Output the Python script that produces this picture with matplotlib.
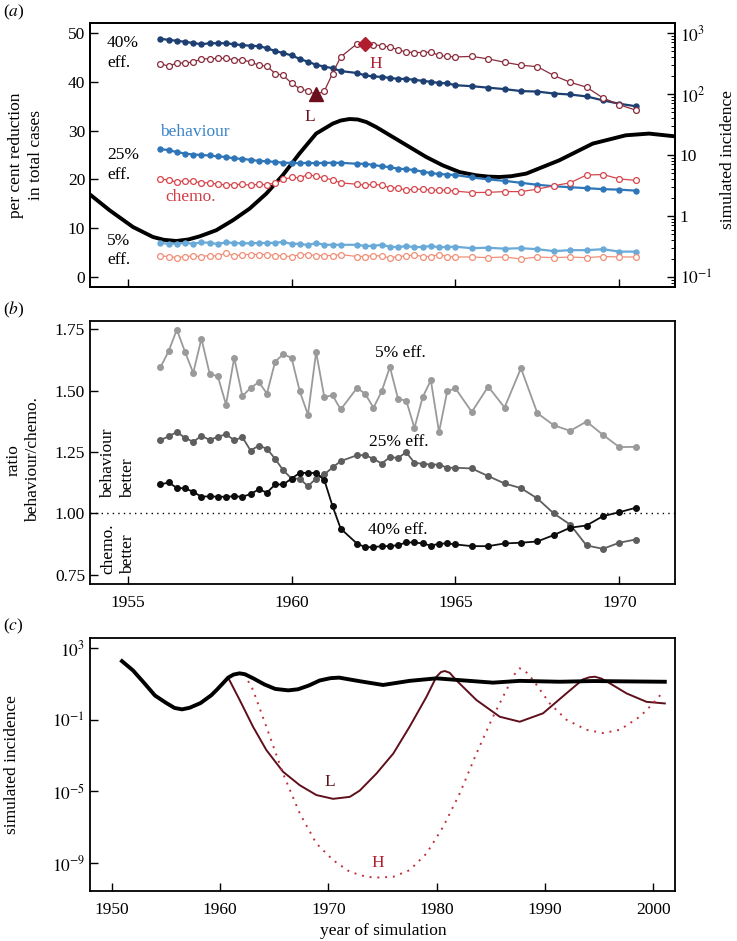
import numpy as np
import matplotlib
matplotlib.use("Agg")
import matplotlib.pyplot as plt
from matplotlib.ticker import FixedLocator, FixedFormatter, LogLocator, NullLocator, NullFormatter

plt.rcParams['font.family'] = ['Liberation Serif', 'DejaVu Serif']
plt.rcParams['mathtext.fontset'] = 'stix'

# ---------------- data ----------------
years = [1956.0, 1956.25, 1956.5, 1956.75, 1957.0, 1957.25, 1957.5, 1957.75,
         1958.0, 1958.25, 1958.5, 1958.75, 1959.0, 1959.25, 1959.5, 1959.75,
         1960.0, 1960.25, 1960.5, 1960.75, 1961.0, 1961.25, 1961.5,
         1962.0, 1962.25, 1962.5, 1962.75, 1963.0, 1963.25, 1963.5, 1963.75,
         1964.0, 1964.25, 1964.5, 1964.75, 1965.0,
         1965.5, 1966.0, 1966.5, 1967.0, 1967.5, 1968.0, 1968.5, 1969.0,
         1969.5, 1970.0, 1970.5]

beh40 = [48.8, 48.6, 48.4, 48.2, 47.95, 47.7, 47.9, 47.9, 47.9, 47.7, 47.5, 47.4,
         47.3, 46.9, 46.3, 45.9, 45.4, 44.7, 44.1, 43.5, 43.1, 42.8, 42.2,
         41.8, 41.3, 41.1, 41.0, 40.8, 40.6, 40.6, 40.4, 40.2, 40.0, 39.75, 39.7, 39.3,
         39.1, 38.8, 38.5, 38.1, 38.0, 37.6, 37.4, 37.0, 36.2, 35.5, 35.0]
chem40 = [43.7, 43.2, 43.85, 43.85, 44.06, 44.7, 44.7, 44.8, 44.8, 44.5, 44.5, 44.06,
          43.4, 43.2, 41.7, 41.3, 39.7, 38.6, 38.1, 37.4, 38.1, 41.7, 45.1,
          47.8, 47.8, 47.6, 47.4, 47.1, 46.6, 46.1, 46.0, 46.0, 46.1, 45.4, 45.2, 45.1,
          45.2, 44.7, 44.0, 43.4, 43.1, 41.3, 39.9, 38.9, 36.7, 35.3, 34.2]
beh25 = [26.2, 26.0, 25.6, 25.3, 25.1, 25.0, 24.9, 24.7, 24.6, 24.3, 24.2, 24.0,
         23.8, 23.7, 23.6, 23.4, 23.4, 23.3, 23.4, 23.3, 23.4, 23.4, 23.4,
         23.2, 23.2, 22.95, 22.7, 22.5, 22.2, 22.1, 21.9, 21.6, 21.3, 21.1, 21.0, 20.9,
         20.4, 20.0, 19.7, 19.3, 18.9, 18.6, 18.4, 18.2, 18.0, 17.9, 17.7]
chem25 = [20.15, 19.8, 19.5, 19.7, 19.6, 19.3, 19.3, 19.0, 18.9, 18.9, 19.0, 18.8,
          19.0, 18.9, 19.3, 20.0, 20.4, 20.3, 21.0, 20.6, 20.3, 19.9, 19.3,
          19.0, 18.8, 19.0, 18.8, 18.3, 18.2, 17.8, 18.0, 18.0, 17.8, 17.8, 17.8, 17.6,
          17.3, 17.35, 17.5, 17.5, 18.0, 18.7, 19.3, 20.9, 21.0, 20.1, 19.8]
beh5 = [6.97, 6.83, 6.83, 6.97, 6.83, 7.1, 7.0, 6.76, 7.1, 6.97, 6.9, 6.9,
        6.97, 6.97, 7.0, 7.2, 6.76, 6.83, 6.5, 7.0, 6.6, 6.6, 6.6,
        6.6, 6.35, 6.4, 6.6, 6.2, 6.1, 6.35, 6.1, 6.15, 6.35, 6.1, 6.15, 6.2,
        5.9, 6.0, 5.8, 5.9, 5.7, 5.3, 5.5, 5.5, 5.7, 5.2, 5.2]
chem5 = [4.3, 4.2, 3.96, 4.2, 4.3, 4.2, 4.4, 4.3, 4.9, 4.3, 4.6, 4.6,
         4.6, 4.6, 4.4, 4.3, 4.2, 4.6, 4.6, 4.4, 4.4, 4.4, 4.6,
         4.2, 4.2, 4.4, 4.3, 3.9, 4.2, 4.3, 4.5, 4.2, 4.2, 4.6, 4.2, 4.1,
         4.1, 3.96, 4.1, 3.7, 4.1, 3.96, 4.1, 3.96, 4.2, 4.1, 4.1]

# highlighted L and H points on the 40% chemo series
L_year, L_val = 1960.75, 37.4
H_year, H_val = 1962.25, 47.8

ratio5 = [1.595, 1.660, 1.748, 1.657, 1.572, 1.711, 1.569, 1.558, 1.443, 1.633, 1.477, 1.511,
          1.534, 1.488, 1.618, 1.648, 1.633, 1.497, 1.402, 1.656, 1.473, 1.481, 1.423,
          1.511, 1.486, 1.430, 1.497, 1.596, 1.466, 1.459, 1.348, 1.473, 1.542, 1.331, 1.497, 1.509,
          1.413, 1.516, 1.431, 1.591, 1.408, 1.359, 1.336, 1.374, 1.320, 1.270, 1.271]
ratio25 = [1.298, 1.314, 1.331, 1.308, 1.291, 1.316, 1.299, 1.312, 1.322, 1.298, 1.310, 1.256,
           1.276, 1.263, 1.222, 1.175, 1.142, 1.141, 1.111, 1.142, 1.159, 1.187, 1.213,
           1.237, 1.237, 1.222, 1.203, 1.229, 1.226, 1.249, 1.206, 1.202, 1.199, 1.199, 1.186, 1.186,
           1.183, 1.152, 1.122, 1.103, 1.061, 1.000, 0.955, 0.870, 0.856, 0.881, 0.894]
ratio40 = [1.118, 1.126, 1.104, 1.102, 1.088, 1.068, 1.070, 1.068, 1.068, 1.070, 1.068, 1.079,
           1.098, 1.085, 1.118, 1.118, 1.142, 1.165, 1.165, 1.165, 1.136, 1.030, 0.938,
           0.877, 0.863, 0.863, 0.867, 0.867, 0.871, 0.882, 0.882, 0.878, 0.869, 0.877, 0.878, 0.874,
           0.867, 0.867, 0.878, 0.881, 0.886, 0.912, 0.942, 0.951, 0.989, 1.005, 1.023]

# simulated incidence (log10) shown in panel (a), right axis
inc_a_years = [1953.84, 1954.45, 1955.16, 1955.77, 1956.1, 1956.48, 1956.85, 1957.2, 1957.7,
               1958.21, 1958.72, 1959.23, 1959.73, 1960.24, 1960.75, 1961.26, 1961.5, 1961.77,
               1962.02, 1962.28, 1962.58, 1963.09, 1963.6, 1964.11, 1964.61, 1965.12, 1965.63,
               1966.0, 1966.34, 1966.7, 1967.16, 1968.17, 1969.19, 1970.2, 1970.91, 1971.68]
inc_a_log10 = [0.356, 0.093, -0.18, -0.344, -0.39, -0.41, -0.385, -0.333, -0.234,
               -0.07, 0.121, 0.367, 0.667, 1.023, 1.351, 1.515, 1.565, 1.59,
               1.582, 1.541, 1.459, 1.295, 1.131, 0.967, 0.831, 0.721, 0.667,
               0.646, 0.639, 0.652, 0.695, 0.913, 1.187, 1.323, 1.351, 1.307]

# panel (c): baseline, L and H scenarios (log10 incidence)
base_years = [1950.95, 1951.97, 1953.0, 1954.0, 1955.0, 1955.8, 1956.5, 1957.2, 1958.2, 1959.2,
              1959.7, 1960.25, 1960.75, 1961.25, 1961.8, 1962.3, 1963.1, 1964.1, 1965.1, 1966.3,
              1967.2, 1968.2, 1969.2, 1970.2, 1971.0, 1972.9, 1975.05, 1977.5, 1979.98, 1982.13,
              1985.2, 1987.67, 1991.37, 1994.44, 1997.53, 2001.06]
base_log10 = [2.27, 1.75, 1.05, 0.35, -0.05, -0.34, -0.42, -0.33, -0.07, 0.37,
              0.67, 1.02, 1.35, 1.52, 1.59, 1.54, 1.30, 0.97, 0.72, 0.64,
              0.70, 0.91, 1.19, 1.32, 1.35, 1.15, 0.94, 1.17, 1.31, 1.21,
              1.07, 1.17, 1.12, 1.16, 1.14, 1.12]
L_years = [1960.75, 1961.82, 1963.05, 1964.28, 1965.82, 1967.36, 1968.9, 1970.44, 1971.98,
           1972.9, 1974.44, 1976.0, 1977.5, 1979.06, 1979.98, 1980.4, 1980.75, 1981.2, 1981.8,
           1983.67, 1985.82, 1987.67, 1989.82, 1991.97, 1993.5, 1994.1, 1994.6, 1995.2,
           1995.99, 1997.53, 1999.37, 2001.06]
L_log10 = [1.35, 0.1, -1.39, -2.69, -3.9, -4.65, -5.2, -5.41, -5.3,
           -4.95, -4.0, -2.88, -1.39, 0.28, 1.40, 1.66, 1.72, 1.62, 1.21,
           0.1, -0.83, -1.11, -0.64, 0.47, 1.25, 1.37, 1.40, 1.30,
           1.03, 0.47, 0.0, -0.09]
H_years = [1962.25, 1963.05, 1964.28, 1965.82, 1967.36, 1968.9, 1970.44, 1971.98, 1973.52,
           1974.44, 1975.98, 1977.5, 1979.06, 1980.6, 1982.13, 1983.67, 1985.2, 1986.44,
           1987.2, 1987.67, 1988.2, 1988.9, 1990.44, 1991.98, 1993.83, 1995.37, 1996.91,
           1998.75, 1999.98, 2000.9]
H_log10 = [1.54, 0.66, -1.39, -4.0, -6.22, -7.9, -8.83, -9.48, -9.76,
           -9.8, -9.76, -9.39, -8.46, -6.97, -5.11, -2.88, -0.83, 0.66,
           1.55, 1.87, 1.70, 1.22, -0.09, -1.0, -1.56, -1.74, -1.56,
           -0.83, -0.09, 0.56]

# ---------------- styling ----------------
c_beh40, c_beh25, c_beh5 = '#1d3f72', '#2f76b8', '#6aaad8'
c_ch40, c_ch25, c_ch5 = '#8a2b3b', '#d5474c', '#f08f78'
FS = 12.5

W, Hh = 737, 941
fig = plt.figure(figsize=(W / 100, Hh / 100), dpi=100)

def rect(l, t, r, b):
    return [l / W, 1 - b / Hh, (r - l) / W, (b - t) / Hh]

def ftext(x, y, s, **kw):
    fig.text(x / W, 1 - y / Hh, s, **kw)

axA = fig.add_axes(rect(90, 23, 675, 287))
axB = fig.add_axes(rect(90, 321, 675, 584))
axC = fig.add_axes(rect(90, 638, 675, 891))

for ax in (axA, axB, axC):
    for s in ax.spines.values():
        s.set_linewidth(1.3)
    ax.tick_params(direction='in', length=6, width=1.0, labelsize=FS)

# ---------------- panel (a) ----------------
axA2 = axA.twinx()
axA2.set_zorder(0)
axA.set_zorder(1)
axA.patch.set_visible(False)
axA2.plot(inc_a_years, 10 ** np.array(inc_a_log10), color='black', lw=2.8, zorder=1,
          solid_joinstyle='round')
axA2.set_yscale('log')
axA2.set_ylim(10 ** -1.164, 10 ** 3.164)
axA2.yaxis.set_major_locator(FixedLocator([0.1, 1, 10, 100, 1000]))
axA2.yaxis.set_major_formatter(FixedFormatter([r'$10^{-1}$', '1', '10', r'$10^{2}$', r'$10^{3}$']))
axA2.yaxis.set_minor_locator(LogLocator(base=10, subs=np.arange(2, 10)))
axA2.yaxis.set_minor_formatter(NullFormatter())
axA2.tick_params(axis='y', which='major', direction='in', length=6, width=1.0, labelsize=FS)
axA2.tick_params(axis='y', which='minor', direction='in', length=3, width=0.7)
for s in axA2.spines.values():
    s.set_linewidth(1.3)

ms_f, ms_o = 3.6, 4.2
for vals, col in ((beh40, c_beh40), (beh25, c_beh25), (beh5, c_beh5)):
    axA.plot(years, vals, '-o', color=col, lw=1.6, ms=ms_f, mec=col, mfc=col, zorder=3)
for vals, col in ((chem40, c_ch40), (chem25, c_ch25), (chem5, c_ch5)):
    axA.plot(years, vals, '-o', color=col, lw=0.9, ms=ms_o, mec=col, mfc='white', mew=0.9, zorder=3)
axA.plot([L_year], [L_val], '^', color='#6b0f1c', ms=10, zorder=5)
axA.plot([H_year], [H_val], 'D', color='#b01d2e', ms=7, zorder=5)

axA.set_xlim(1953.85, 1971.7)
axA.set_ylim(-2.05, 52.05)
axA.set_yticks([0, 10, 20, 30, 40, 50])
axA.set_xticks([1955, 1960, 1965, 1970])
axA.set_xticklabels([])
axA.tick_params(axis='y', right=False)

ftext(107, 43, '40%', fontsize=FS, va='center', ha='left')
ftext(107, 63, 'eff.', fontsize=FS, va='center', ha='left')
ftext(107, 155, '25%', fontsize=FS, va='center', ha='left')
ftext(107, 175, 'eff.', fontsize=FS, va='center', ha='left')
ftext(107, 241, '5%', fontsize=FS, va='center', ha='left')
ftext(107, 260, 'eff.', fontsize=FS, va='center', ha='left')
ftext(160, 132, 'behaviour', fontsize=FS, color='#3a84c6', va='center', ha='left')
ftext(165, 197, 'chemo.', fontsize=FS, color='#cf3f47', va='center', ha='left')
ftext(310, 117, 'L', fontsize=FS, color='#6b0f1c', va='center', ha='center')
ftext(376, 64, 'H', fontsize=FS, color='#b01d2e', va='center', ha='center')

ftext(26, 155, 'per cent reduction\nin total cases', fontsize=FS, rotation=90,
      va='center', ha='center', multialignment='center', linespacing=1.3)
ftext(728, 160, 'simulated incidence', fontsize=FS, rotation=90, va='center', ha='center')
ftext(3, 12, r'($\mathit{a}$)', fontsize=FS, va='center', ha='left')

# ---------------- panel (b) ----------------
axB.plot(years, ratio5, '-o', color='#9a9a9a', lw=1.3, ms=4, zorder=3)
axB.plot(years, ratio25, '-o', color='#5e5e5e', lw=1.3, ms=4, zorder=3)
axB.plot(years, ratio40, '-o', color='#0d0d0d', lw=1.3, ms=4, zorder=4)
axB.axhline(1.0, color='black', lw=1.0, ls=(0, (1, 3)), zorder=1)
axB.set_xlim(1953.85, 1971.7)
axB.set_ylim(0.713, 1.783)
axB.set_yticks([0.75, 1.00, 1.25, 1.50, 1.75])
axB.set_yticklabels(['0.75', '1.00', '1.25', '1.50', '1.75'])
axB.set_xticks([1955, 1960, 1965, 1970])
axB.tick_params(axis='x', pad=8)

ftext(400, 353, '5% eff.', fontsize=FS, va='center', ha='center')
ftext(399, 442, '25% eff.', fontsize=FS, va='center', ha='center')
ftext(398, 530, '40% eff.', fontsize=FS, va='center', ha='center')
ftext(118, 498, 'behaviour\nbetter', fontsize=FS, rotation=90, va='bottom', ha='center',
      multialignment='left', linespacing=1.3)
ftext(118, 574, 'chemo.\nbetter', fontsize=FS, rotation=90, va='bottom', ha='center',
      multialignment='left', linespacing=1.3)
ftext(23, 460, 'ratio\nbehaviour/chemo.', fontsize=FS, rotation=90,
      va='center', ha='center', multialignment='center', linespacing=1.3)
ftext(3, 310, r'($\mathit{b}$)', fontsize=FS, va='center', ha='left')

# ---------------- panel (c) ----------------
axC.plot(base_years, 10 ** np.array(base_log10), color='black', lw=2.8, zorder=3,
         solid_joinstyle='round')
axC.plot(L_years, 10 ** np.array(L_log10), color='#5e0f1b', lw=1.4, zorder=2)
axC.plot(H_years, 10 ** np.array(H_log10), color='#c0303f', lw=1.4, ls=(0, (1, 3)), zorder=2)
axC.set_yscale('log')
axC.set_xlim(1948, 2002)
axC.set_ylim(10 ** -10.55, 10 ** 3.56)
axC.yaxis.set_major_locator(FixedLocator([1e-9, 1e-5, 1e-1, 1e3]))
axC.yaxis.set_major_formatter(FixedFormatter([r'$10^{-9}$', r'$10^{-5}$', r'$10^{-1}$', r'$10^{3}$']))
axC.yaxis.set_minor_locator(NullLocator())
axC.set_xticks([1950, 1960, 1970, 1980, 1990, 2000])
axC.tick_params(axis='x', pad=8)
ftext(330, 782, 'L', fontsize=FS, color='#5e0f1b', va='center', ha='center')
ftext(378, 863, 'H', fontsize=FS, color='#b01d2e', va='center', ha='center')
ftext(12, 765, 'simulated incidence', fontsize=FS, rotation=90, va='center', ha='center')
ftext(383, 931, 'year of simulation', fontsize=FS, va='center', ha='center')
ftext(3, 626, r'($\mathit{c}$)', fontsize=FS, va='center', ha='left')

fig.savefig('out.png', dpi=100)
